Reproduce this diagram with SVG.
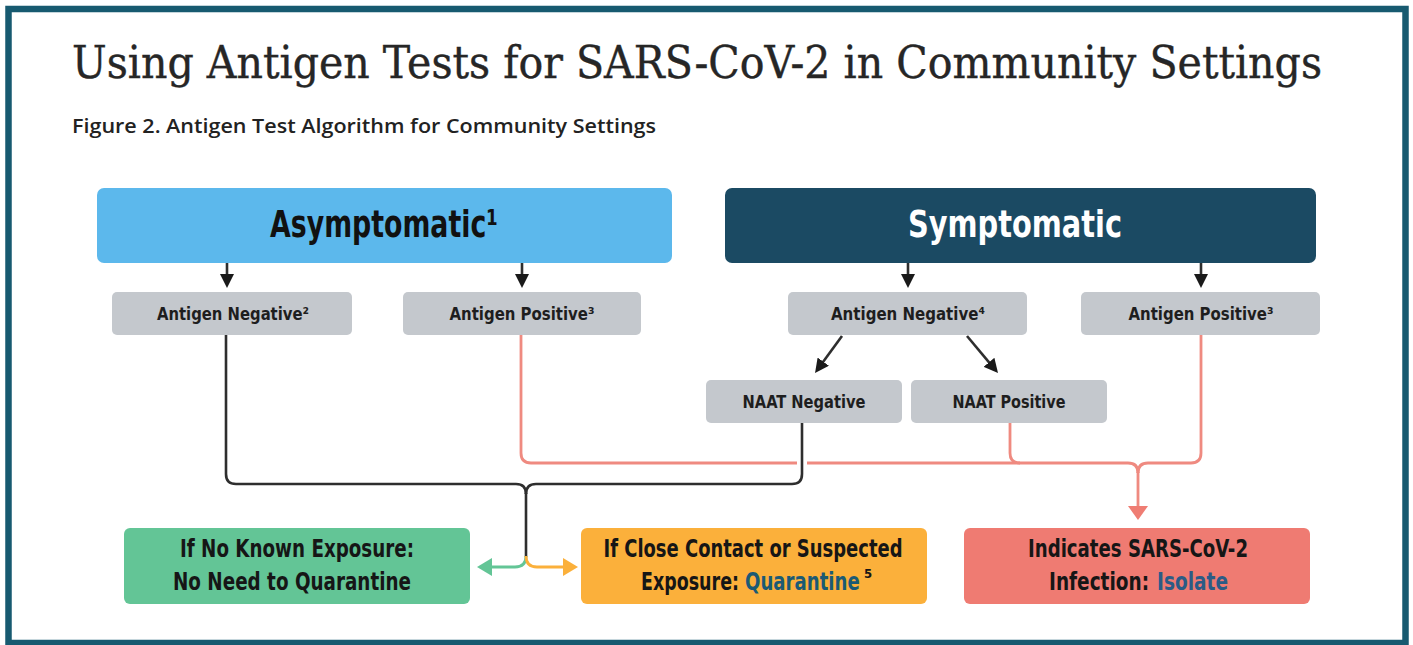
<svg xmlns="http://www.w3.org/2000/svg" width="1413" height="645" viewBox="0 0 1413 645">
  <style>
    .cond { font-family: 'Liberation Sans Narrow', 'DejaVu Sans Condensed', 'Roboto', sans-serif; font-weight: bold; }
    .gbox { fill: #c4c8cd; }
    .gtxt { font-size: 17px; fill: #1e1e1e; text-anchor: middle; }
    .btxt { font-size: 24px; fill: #161616; text-anchor: middle; }
    .bl { font-size: 24px; fill: #161616; }
    .blk { fill: none; stroke: #2e2e2e; stroke-width: 2.6; }
    .pnk { fill: none; stroke: #ef8a80; stroke-width: 2.8; }
  </style>
  <defs>
    <marker id="ab" viewBox="0 0 14 14" refX="2" refY="7" markerWidth="14" markerHeight="14" markerUnits="userSpaceOnUse" orient="auto">
      <path d="M0,0 L14,7 L0,14 z" fill="#1a1a1a"/>
    </marker>
    <marker id="ap" viewBox="0 0 14 20" refX="2" refY="10" markerWidth="14" markerHeight="20" markerUnits="userSpaceOnUse" orient="auto">
      <path d="M0,0 L14,10 L0,20 z" fill="#ef7d73"/>
    </marker>
    <marker id="ag" viewBox="0 0 15 18" refX="2" refY="9" markerWidth="15" markerHeight="18" markerUnits="userSpaceOnUse" orient="auto">
      <path d="M0,0 L15,9 L0,18 z" fill="#63c596"/>
    </marker>
    <marker id="ao" viewBox="0 0 15 18" refX="2" refY="9" markerWidth="15" markerHeight="18" markerUnits="userSpaceOnUse" orient="auto">
      <path d="M0,0 L15,9 L0,18 z" fill="#fbb03b"/>
    </marker>
  </defs>

  <rect x="0" y="0" width="1413" height="645" fill="#ffffff"/>
  <rect id="frame" x="8.5" y="9" width="1397" height="634" fill="#ffffff" stroke="#175a70" stroke-width="6.5"/>

  <g id="title">
    <text x="72" y="78" font-family="'DejaVu Serif','Liberation Serif',serif" font-size="44" fill="#262626" stroke="#262626" stroke-width="0.4" textLength="1250" lengthAdjust="spacingAndGlyphs">Using Antigen Tests for SARS-CoV-2 in Community Settings</text>
    <text x="72" y="133" font-family="'Open Sans','Liberation Sans',sans-serif" font-weight="600" font-size="19" fill="#222222" textLength="584" lengthAdjust="spacingAndGlyphs">Figure 2. Antigen Test Algorithm for Community Settings</text>
  </g>

  <g id="connectors">
    <line x1="227" y1="263" x2="227" y2="276" class="blk" marker-end="url(#ab)"/>
    <line x1="522" y1="263" x2="522" y2="276" class="blk" marker-end="url(#ab)"/>
    <line x1="908" y1="263" x2="908" y2="276" class="blk" marker-end="url(#ab)"/>
    <line x1="1201" y1="263" x2="1201" y2="276" class="blk" marker-end="url(#ab)"/>
    <line x1="842" y1="336" x2="822.1" y2="363.3" class="blk" marker-end="url(#ab)"/>
    <line x1="967" y1="336" x2="990.3" y2="363.8" class="blk" marker-end="url(#ab)"/>
    <path class="pnk" d="M521,335 V453 Q521,463 531,463 H1128 Q1138,463 1138,473"/>
    <path class="pnk" d="M1010,423 V453 Q1010,463 1020,463"/>
    <path class="pnk" d="M1201,335 V453 Q1201,463 1191,463 H1148 Q1138,463 1138,473"/>
    <path class="pnk" d="M1138,472 V508" marker-end="url(#ap)"/>
    <line x1="802" y1="454" x2="802" y2="472" stroke="#ffffff" stroke-width="10"/>
    <path class="blk" d="M226,335 V474 Q226,484 236,484 H516 Q526,484 526,494"/>
    <path class="blk" d="M802,423 V474 Q802,484 792,484 H536 Q526,484 526,494"/>
    <path class="blk" d="M526,493 V557"/>
    <path d="M526,556 Q526,567 515,567 H490" fill="none" stroke="#63c596" stroke-width="2.8" marker-end="url(#ag)"/>
    <path d="M526,556 Q526,567 537,567 H565" fill="none" stroke="#fbb03b" stroke-width="2.8" marker-end="url(#ao)"/>
  </g>

  <g id="asymptomatic">
    <rect x="97" y="188" width="575" height="75" rx="7" fill="#5cb8ec"/>
    <text x="384" y="237" class="cond" font-size="38" fill="#111111" text-anchor="middle" textLength="228" lengthAdjust="spacingAndGlyphs">Asymptomatic¹</text>
  </g>
  <g id="symptomatic">
    <rect x="725" y="188" width="591" height="75" rx="7" fill="#1b4a63"/>
    <text x="1015" y="237" class="cond" font-size="38" fill="#ffffff" text-anchor="middle" textLength="214" lengthAdjust="spacingAndGlyphs">Symptomatic</text>
  </g>

  <g id="antigen-negative-asym">
    <rect x="112" y="292" width="240" height="43" rx="5" class="gbox"/>
    <text x="233" y="320" class="cond gtxt" textLength="152" lengthAdjust="spacingAndGlyphs">Antigen Negative²</text>
  </g>
  <g id="antigen-positive-asym">
    <rect x="403" y="292" width="238" height="43" rx="5" class="gbox"/>
    <text x="522" y="320" class="cond gtxt" textLength="145" lengthAdjust="spacingAndGlyphs">Antigen Positive³</text>
  </g>
  <g id="antigen-negative-sym">
    <rect x="788" y="292" width="239" height="43" rx="5" class="gbox"/>
    <text x="908" y="320" class="cond gtxt" textLength="154" lengthAdjust="spacingAndGlyphs">Antigen Negative⁴</text>
  </g>
  <g id="antigen-positive-sym">
    <rect x="1081" y="292" width="239" height="43" rx="5" class="gbox"/>
    <text x="1201" y="320" class="cond gtxt" textLength="145" lengthAdjust="spacingAndGlyphs">Antigen Positive³</text>
  </g>
  <g id="naat-negative">
    <rect x="706" y="380" width="196" height="43" rx="5" class="gbox"/>
    <text x="804" y="408" class="cond gtxt" textLength="123" lengthAdjust="spacingAndGlyphs">NAAT Negative</text>
  </g>
  <g id="naat-positive">
    <rect x="911" y="380" width="196" height="43" rx="5" class="gbox"/>
    <text x="1009" y="408" class="cond gtxt" textLength="113" lengthAdjust="spacingAndGlyphs">NAAT Positive</text>
  </g>

  <g id="no-quarantine">
    <rect x="124" y="528" width="346" height="76" rx="6" fill="#63c596"/>
    <text x="297" y="557" class="cond btxt" textLength="234" lengthAdjust="spacingAndGlyphs">If No Known Exposure:</text>
    <text x="292" y="590" class="cond btxt" textLength="238" lengthAdjust="spacingAndGlyphs">No Need to Quarantine</text>
  </g>
  <g id="quarantine">
    <rect x="581" y="528" width="346" height="76" rx="6" fill="#fbb03b"/>
    <text x="753" y="557" class="cond btxt" textLength="299" lengthAdjust="spacingAndGlyphs">If Close Contact or Suspected</text>
    <text transform="translate(641,590) scale(0.82,1)" class="cond bl" textLength="119.5" lengthAdjust="spacingAndGlyphs">Exposure:</text>
    <text transform="translate(745,590) scale(0.82,1)" class="cond bl" style="fill:#1b5a74" textLength="140" lengthAdjust="spacingAndGlyphs">Quarantine</text>
    <text x="864" y="578" class="cond" font-size="13" fill="#161616">5</text>
  </g>
  <g id="isolate">
    <rect x="964" y="528" width="346" height="76" rx="6" fill="#ef7b72"/>
    <text x="1138" y="557" class="cond btxt" textLength="220" lengthAdjust="spacingAndGlyphs">Indicates SARS-CoV-2</text>
    <text transform="translate(1049,590) scale(0.82,1)" class="cond bl" textLength="122" lengthAdjust="spacingAndGlyphs">Infection:</text>
    <text transform="translate(1157,590) scale(0.82,1)" class="cond bl" style="fill:#2b5b86" textLength="86.6" lengthAdjust="spacingAndGlyphs">Isolate</text>
  </g>
</svg>
